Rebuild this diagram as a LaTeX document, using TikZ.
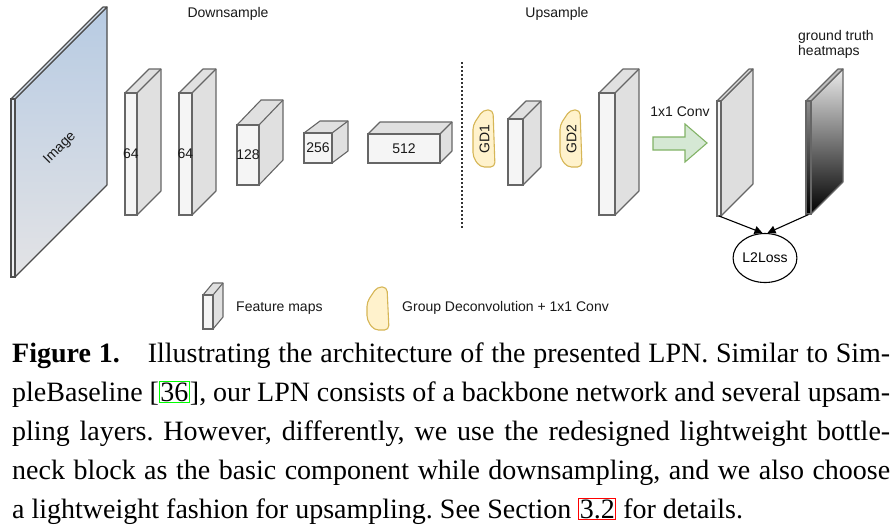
\documentclass[tikz,border=0pt]{standalone}
\usepackage{fontspec}
\setmainfont{Liberation Serif}
\newfontfamily\diafont{Liberation Sans}
\usetikzlibrary{shapes.geometric,arrows.meta}
\definecolor{edgegray}{HTML}{666666}
\definecolor{facefront}{HTML}{F5F5F5}
\definecolor{faceside}{HTML}{E0E0E0}
\definecolor{gdfill}{HTML}{FFF2CC}
\definecolor{gdedge}{HTML}{D6B656}
\definecolor{convfill}{HTML}{D5E8D4}
\definecolor{convedge}{HTML}{82B366}
\definecolor{imgtop}{HTML}{B7CBE3}
\definecolor{imgbot}{HTML}{E3E3E5}
\definecolor{imgedge}{HTML}{4D4D4D}
\definecolor{linkgreen}{HTML}{00FF00}
\definecolor{linkred}{HTML}{FF0000}
\tikzset{
  diatext/.style={font=\diafont\fontsize{14}{16}\selectfont, text=black!90, inner sep=0pt},
  fmapback/.style={fill=faceside, draw=edgegray, line width=1.1pt, line join=round},
  fmapfront/.style={rectangle, fill=facefront, draw=edgegray, line width=1.1pt, inner sep=0pt, outer sep=0pt},
  gdstyle/.style={fill=gdfill, draw=gdedge, line width=1.1pt, rounded corners=4.5pt},
  convstyle/.style={fill=convfill, draw=convedge, line width=1.1pt, line join=miter},
  sepline/.style={draw=black!80, line width=1.3pt, dash pattern=on 2pt off 2pt},
  lossarrow/.style={draw=black, line width=1.1pt, -{Triangle[length=8pt,width=8pt]}},
  capline/.style={inner sep=0pt, anchor=base west, font=\fontsize{28}{34}\selectfont\frenchspacing},
}
\newcommand\fmap[8]{%
  \path[fmapback] (#2,#3) -- ({#2+#6},{#3-#7}) -- ({#4+#6},{#3-#7}) -- ({#4+#6},{#5-#7}) -- (#4,#5) -- (#4,#3) -- cycle;
  \draw[fmapback, fill=none] (#4,#3) -- ({#4+#6},{#3-#7});
  \pgfmathsetmacro\fmw{#4-#2}%
  \pgfmathsetmacro\fmh{#5-#3}%
  \node[fmapfront, minimum width=\fmw pt, minimum height=\fmh pt] (#1) at ({(#2+#4)/2},{(#3+#5)/2}) {};
  \node[diatext] (#1-l) at (#1.center) {#8};
}
\newcommand\gdpath[4]{%
  \draw[gdstyle] ({#1+10},#2) -- ({#3-2},#2) -- (#3,#4) -- ({#1+7},#4) -- (#1,{#4-10}) -- (#1,{#2+15}) -- cycle;
}
\newcommand\lnkbox[2]{{\setlength\fboxsep{0.5pt}\setlength\fboxrule{1pt}\color{#1}\fbox{\color{black}#2}}}
\begin{document}
\begin{tikzpicture}[x=1pt,y=-1pt]
\useasboundingbox (0,0) rectangle (894,531);
\fill[white] (0,0) rectangle (894,531);

% section titles
\node[diatext] (down) at (228,14) {Downsample};
\node[diatext] (up) at (557,14) {Upsample};

% input image slab
\path[draw=imgedge, line width=1.1pt, top color=imgtop, bottom color=imgbot, line join=round]
  (15,99) -- (107,7) -- (107,185) -- (15,277) -- cycle;
\path[draw=imgedge, line width=1.1pt, fill=imgtop!60!white, line join=round]
  (11,99) -- (103,7) -- (107,7) -- (15,99) -- cycle;
\node[rectangle, draw=imgedge, line width=1.1pt, top color=imgtop!40!white, bottom color=imgbot!60!white,
  minimum width=4pt, minimum height=178pt, inner sep=0pt] (img) at (13,188) {};
\node[diatext, rotate=45] (imgl) at (60,148) {Image};

% feature maps (downsampling)
\fmap{b1}{125}{93}{137}{215}{24}{24}{64}
\fmap{b2}{179}{93}{192}{215}{24}{24}{64}
\fmap{b3}{237}{125}{259}{185}{24}{25}{128}
\fmap{b4}{304}{133}{332}{163}{16}{12}{256}
\fmap{b5}{368}{134}{440}{163}{12}{12}{512}

% separator
\coordinate (septop) at (462,62);
\coordinate (sepbot) at (462,228);
\draw[sepline] (septop) -- (sepbot);

% upsampling
\gdpath{473}{110}{495}{167}
\node[diatext, rotate=90] (gd1) at (484.5,139) {GD1};
\fmap{b6}{508}{119}{523}{185}{18}{18}{}
\gdpath{560}{110}{582}{167}
\node[diatext, rotate=90] (gd2) at (571.5,139) {GD2};
\fmap{b7}{599}{93}{615}{215}{24}{24}{}

% 1x1 conv arrow
\draw[convstyle] (653,137) -- (685,137) -- (685,124) -- (707,143) -- (685,162) -- (685,150) -- (653,150) -- cycle;
\node[diatext] (convl) at (680,112) {1x1 Conv};

% output heatmaps
\path[fmapback, fill=black!13] (721,101) -- (753,69) -- (753,184) -- (721,216) -- cycle;
\path[fmapback, fill=black!13] (717,101) -- (749,69) -- (753,69) -- (721,101) -- cycle;
\node[fmapfront, fill=facefront, minimum width=4pt, minimum height=115pt] (heat) at (719,158.5) {};

% ground truth heatmaps
\path[draw=edgegray, line width=1.1pt, top color=black!8, bottom color=black, line join=round]
  (811,101) -- (843,69) -- (843,182) -- (811,214) -- cycle;
\path[draw=edgegray, line width=1.1pt, fill=black!25, line join=round]
  (806,101) -- (838,69) -- (843,69) -- (811,101) -- cycle;
\node[rectangle, draw=edgegray, line width=1.1pt, top color=black!45, bottom color=black,
  minimum width=5pt, minimum height=113pt, inner sep=0pt] (gt) at (808.5,157.5) {};
\node[diatext, align=left, anchor=west, font=\diafont\fontsize{14}{15.5}\selectfont] (gtl) at (798,44.5) {ground truth\\heatmaps};

% loss
\node[ellipse, draw=black, line width=1.1pt, minimum width=61pt, minimum height=49pt, inner sep=0pt,
  font=\diafont\fontsize{14}{16}\selectfont] (loss) at (765,258) {L2Loss};
\draw[lossarrow] (heat.south) -- ([xshift=-2.5pt]loss.north);
\draw[lossarrow] (gt.south) -- ([xshift=2.5pt]loss.north);

% legend
\fmap{lg1}{203}{295}{213}{329}{10}{12}{}
\node[diatext, anchor=west] (lgt1) at (236,308) {Feature maps};
\gdpath{367}{287}{389}{330}
\node[diatext, anchor=west] (lgt2) at (402,308) {Group Deconvolution + 1x1 Conv};

% caption
\node[capline] (cap1) at (12,362.5) {\makebox[878pt][s]{\textbf{Figure 1.}\quad Illustrating the architecture of the presented LPN. Similar to Sim-}};
\node[capline] (cap2) at (12,401.4) {\makebox[878pt][s]{pleBaseline [\lnkbox{linkgreen}{36}], our LPN consists of a backbone network and several upsam-}};
\node[capline] (cap3) at (12,440.3) {\makebox[878pt][s]{pling layers. However, differently, we use the redesigned lightweight bottle-}};
\node[capline] (cap4) at (12,479.2) {\makebox[878pt][s]{neck block as the basic component while downsampling, and we also choose}};
\node[capline] (cap5) at (12,518) {a lightweight fashion for upsampling. See Section \lnkbox{linkred}{3.2} for details.};
\end{tikzpicture}
\end{document}
